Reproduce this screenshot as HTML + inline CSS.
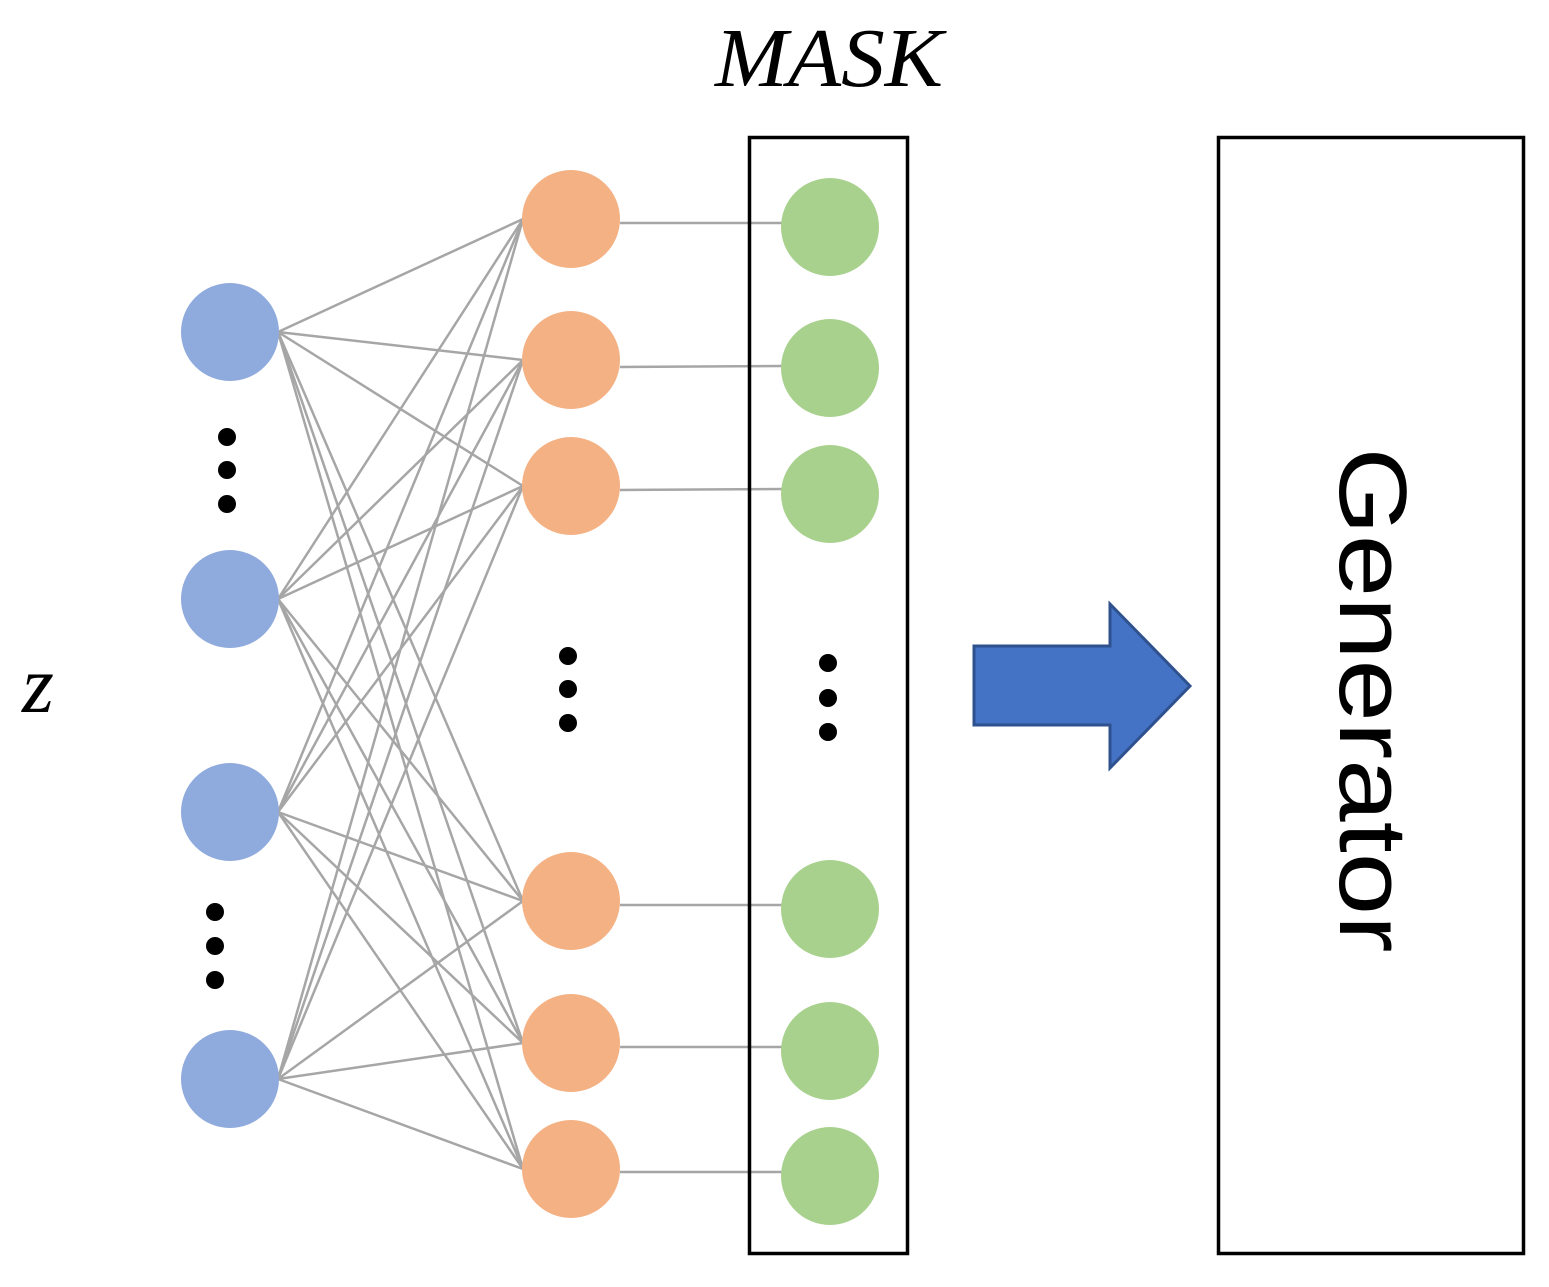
<!DOCTYPE html>
<html><head><meta charset="utf-8"><style>html,body{margin:0;padding:0;background:#fff}</style></head>
<body>
<svg width="1549" height="1282" xmlns="http://www.w3.org/2000/svg">
<g stroke="#a6a6a6" stroke-width="2.5" id="lines"></g>
<g stroke="#a6a6a6" stroke-width="2.5">
<line x1="620" y1="223" x2="782" y2="223"/>
<line x1="620" y1="367" x2="782" y2="366"/>
<line x1="620" y1="490" x2="782" y2="489"/>
<line x1="620" y1="905" x2="782" y2="905"/>
<line x1="620" y1="1047" x2="782" y2="1047"/>
<line x1="620" y1="1172" x2="782" y2="1172"/>
</g>
<g fill="#8faadc">
<circle cx="230" cy="332" r="49"/><circle cx="230" cy="599" r="49"/><circle cx="230" cy="812" r="49"/><circle cx="230" cy="1079" r="49"/>
</g>
<g fill="#f4b183">
<circle cx="571" cy="219" r="49"/><circle cx="571" cy="360" r="49"/><circle cx="571" cy="486" r="49"/><circle cx="571" cy="901" r="49"/><circle cx="571" cy="1043" r="49"/><circle cx="571" cy="1169" r="49"/>
</g>
<rect x="749.5" y="137.5" width="158" height="1116" fill="none" stroke="#000" stroke-width="3.5"/>
<g fill="#a9d18e">
<circle cx="830" cy="227" r="49"/><circle cx="830" cy="368" r="49"/><circle cx="830" cy="494" r="49"/><circle cx="830" cy="909" r="49"/><circle cx="830" cy="1051" r="49"/><circle cx="830" cy="1176" r="49"/>
</g>
<g fill="#000">
<circle cx="227" cy="437" r="9"/><circle cx="227" cy="470" r="9"/><circle cx="227" cy="504" r="9"/>
<circle cx="215" cy="912" r="9"/><circle cx="215" cy="946" r="9"/><circle cx="215" cy="980" r="9"/>
<circle cx="568" cy="656" r="9"/><circle cx="568" cy="689" r="9"/><circle cx="568" cy="723" r="9"/>
<circle cx="828" cy="663" r="9"/><circle cx="828" cy="698" r="9"/><circle cx="828" cy="732" r="9"/>
</g>
<polygon points="974,646 1110,646 1110,604 1190,686 1110,768 1110,725 974,725" fill="#4472c4" stroke="#2f528f" stroke-width="3"/>
<rect x="1218.5" y="137.5" width="305" height="1116" fill="none" stroke="#000" stroke-width="3.5"/>
<text x="715" y="86" font-family="Liberation Serif, serif" font-style="italic" font-size="84" textLength="228" lengthAdjust="spacingAndGlyphs">MASK</text>
<text x="38" y="712" font-family="Liberation Serif, serif" font-style="italic" font-size="82" text-anchor="middle">z</text>
<text transform="translate(1340,700) rotate(90)" font-family="Liberation Sans, sans-serif" font-size="96" text-anchor="middle" textLength="505" lengthAdjust="spacingAndGlyphs">Generator</text>
</svg>
<script>
var b=[332,599,812,1079],o=[219,360,486,901,1043,1169],g=document.getElementById('lines'),s='';
b.forEach(function(y1){o.forEach(function(y2){s+='<line x1="278" y1="'+y1+'" x2="523" y2="'+y2+'"/>';});});
g.innerHTML=s;
</script>
</body></html>
